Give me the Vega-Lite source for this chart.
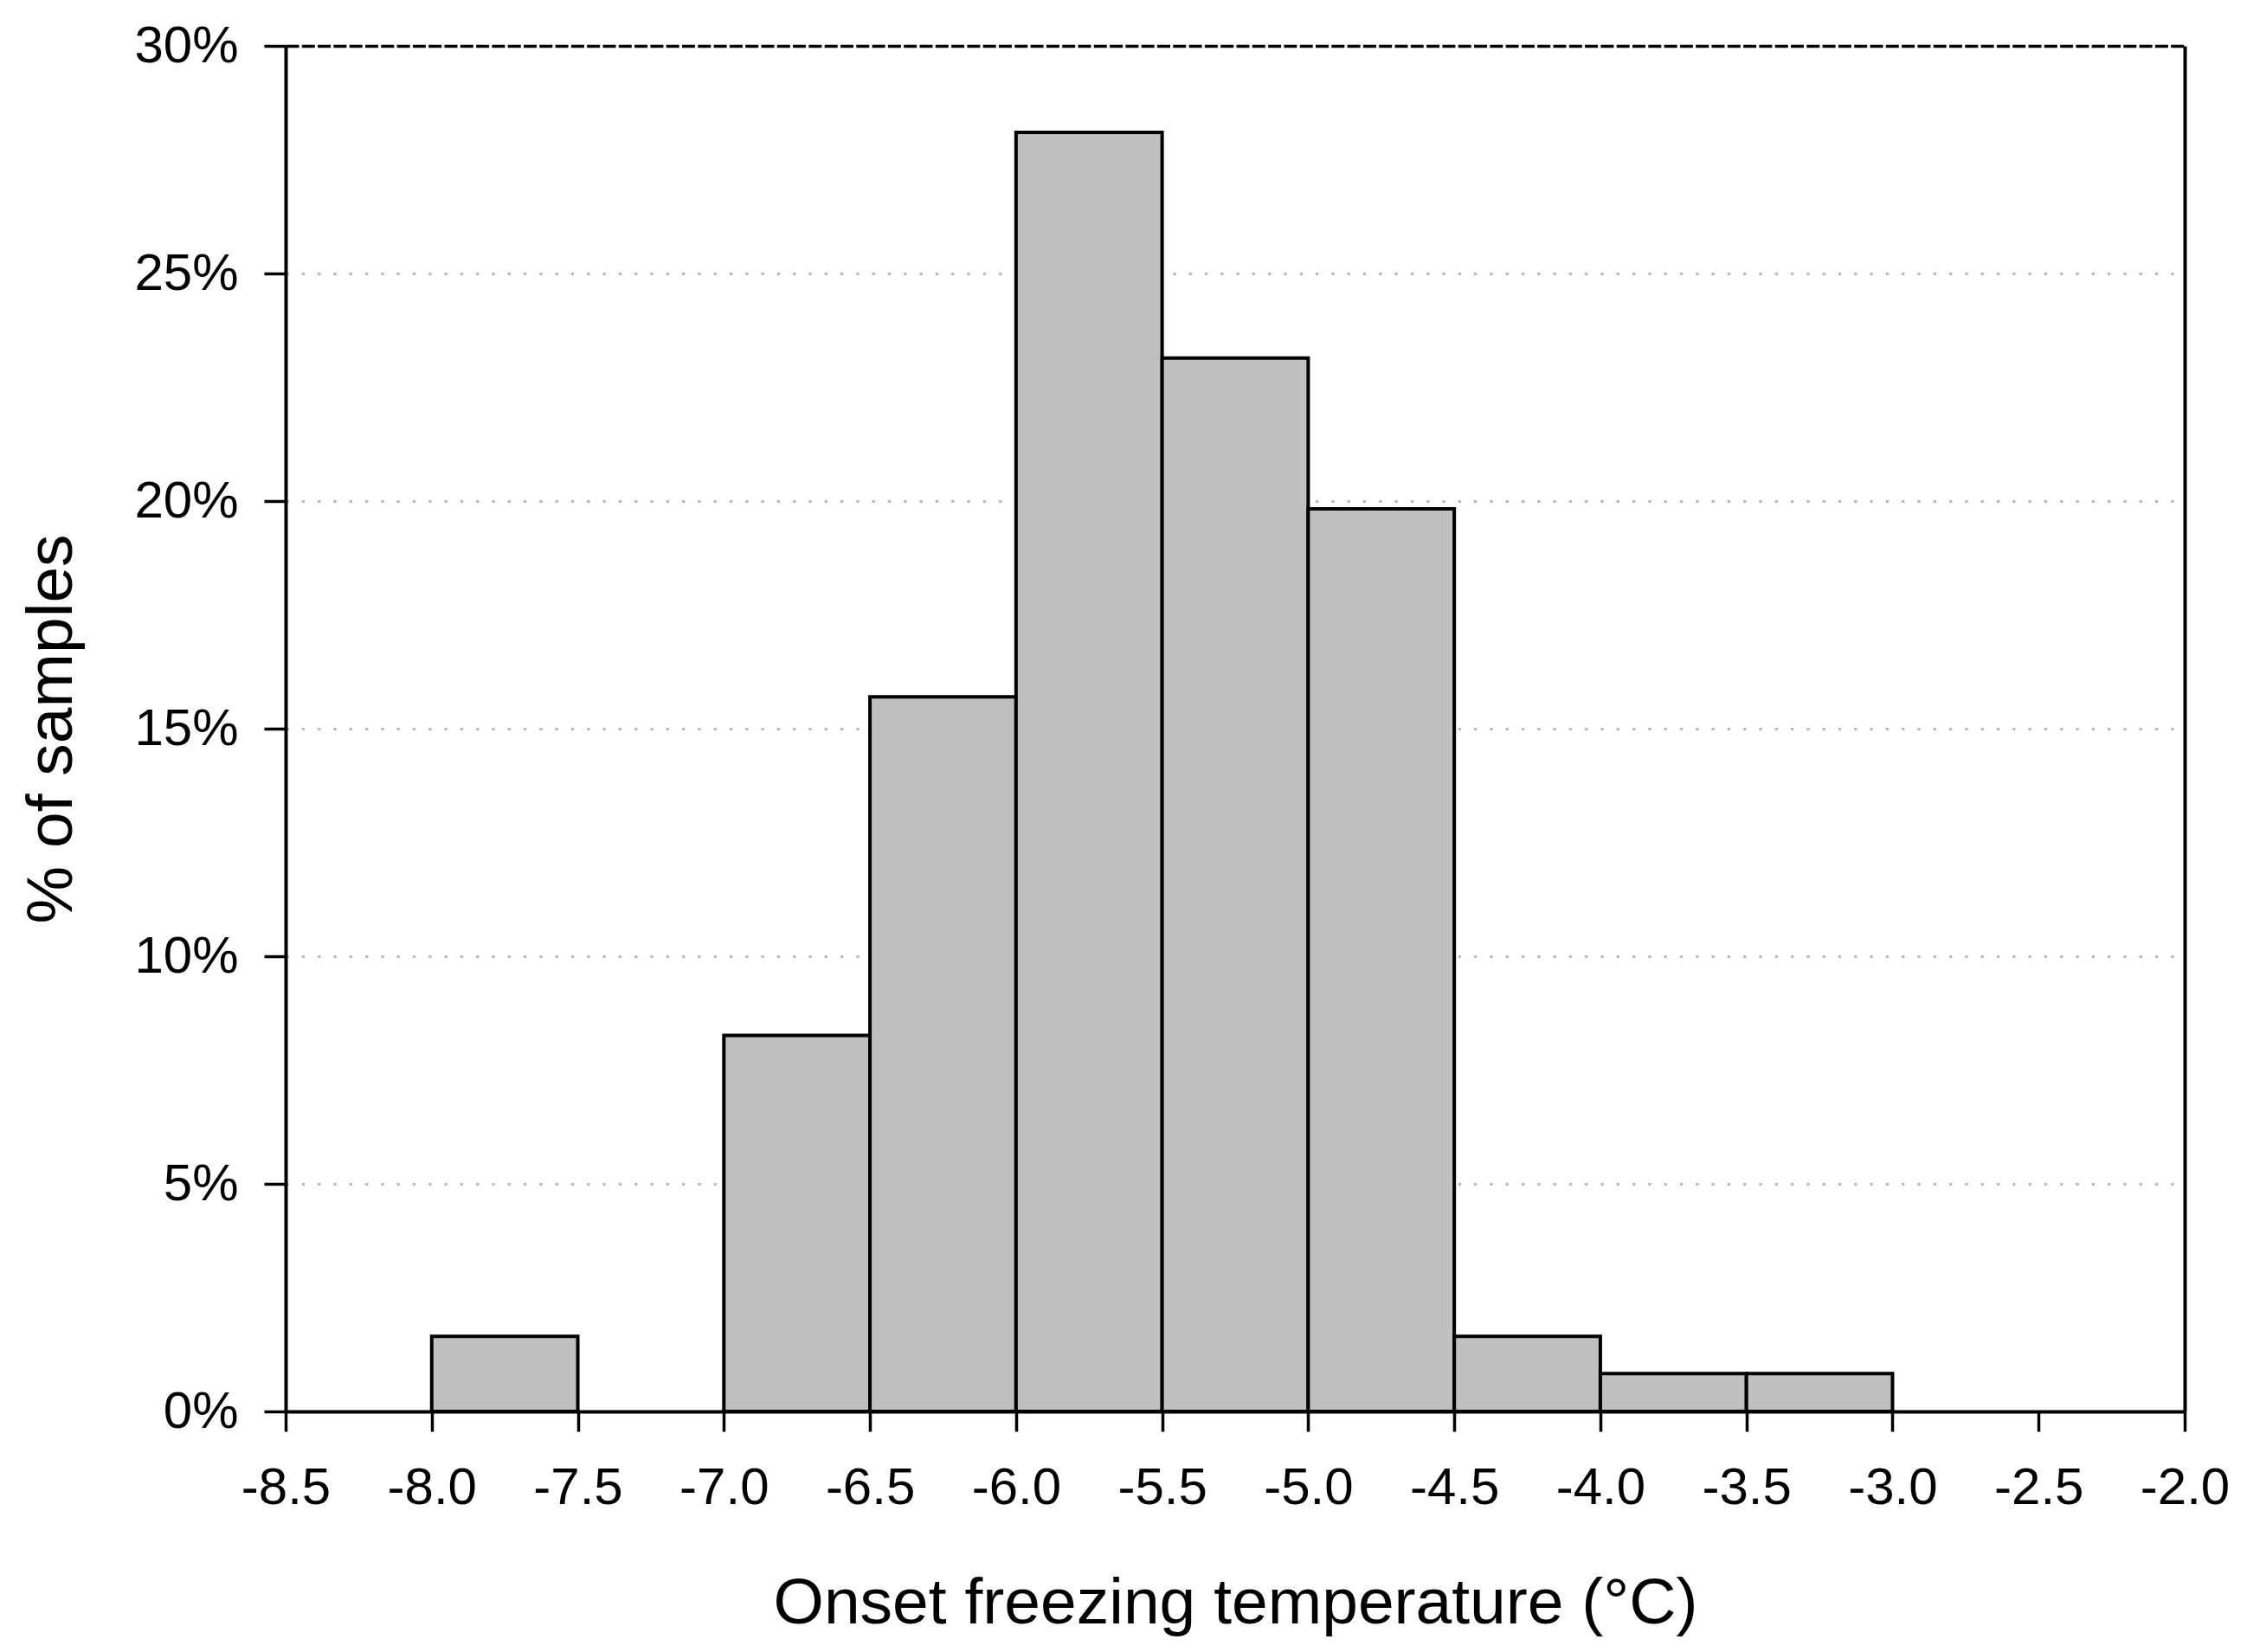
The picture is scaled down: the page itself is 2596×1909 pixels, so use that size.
{
  "$schema": "https://vega.github.io/schema/vega-lite/v6.json",
  "autosize": {"type": "none"},
  "width": 2194,
  "height": 1578,
  "padding": {"left": 330, "top": 53, "right": 72, "bottom": 278},
  "background": "white",
  "config": {
    "view": {"stroke": null},
    "font": "Liberation Sans",
    "axis": {
      "labelFont": "Liberation Sans",
      "titleFont": "Liberation Sans",
      "labelColor": "black",
      "titleColor": "black",
      "domainColor": "black",
      "tickColor": "black",
      "titleFontWeight": "normal"
    }
  },
  "data": {
    "values": [
      {"lo": -8.0, "hi": -7.5, "pct": 0.0165},
      {"lo": -7.0, "hi": -6.5, "pct": 0.0826},
      {"lo": -6.5, "hi": -6.0, "pct": 0.1570},
      {"lo": -6.0, "hi": -5.5, "pct": 0.2810},
      {"lo": -5.5, "hi": -5.0, "pct": 0.2314},
      {"lo": -5.0, "hi": -4.5, "pct": 0.1983},
      {"lo": -4.5, "hi": -4.0, "pct": 0.0165},
      {"lo": -4.0, "hi": -3.5, "pct": 0.0083},
      {"lo": -3.5, "hi": -3.0, "pct": 0.0083}
    ]
  },
  "mark": {"type": "bar", "fill": "#c0c0c0", "stroke": "black", "strokeWidth": 4, "clip": false},
  "encoding": {
    "x": {
      "field": "lo",
      "type": "quantitative",
      "scale": {"domain": [-8.5, -2.0], "nice": false, "zero": false},
      "axis": {
        "title": "Onset freezing temperature (°C)",
        "values": [-8.5, -8.0, -7.5, -7.0, -6.5, -6.0, -5.5, -5.0, -4.5, -4.0, -3.5, -3.0, -2.5, -2.0],
        "format": ".1f",
        "labelExpr": "replace(datum.label, '\u2212', '-')",
        "labelFontSize": 60,
        "labelBaseline": "alphabetic",
        "labelPadding": 83,
        "labelFlush": false,
        "labelOverlap": false,
        "tickSize": 23,
        "tickWidth": 3.5,
        "domainWidth": 4,
        "titleFontSize": 75,
        "titleBaseline": "alphabetic",
        "titleY": 244,
        "grid": true,
        "gridColor": "black",
        "gridWidth": 4,
        "gridOpacity": {"condition": {"test": "datum.value === -2", "value": 1}, "value": 0}
      }
    },
    "x2": {"field": "hi"},
    "y": {
      "field": "pct",
      "type": "quantitative",
      "scale": {"domain": [0, 0.3], "nice": false},
      "axis": {
        "title": "% of samples",
        "values": [0, 0.05, 0.1, 0.15, 0.2, 0.25, 0.3],
        "format": ".0%",
        "labelFontSize": 60,
        "labelPadding": 30,
        "labelFlush": false,
        "tickSize": 25,
        "tickWidth": 3.5,
        "domainWidth": 4,
        "titleFontSize": 75,
        "titleBaseline": "alphabetic",
        "titleX": -248,
        "grid": true,
        "gridColor": {"condition": {"test": "datum.value === 0.3", "value": "black"}, "value": "#b8b8b8"},
        "gridDash": {"condition": {"test": "datum.value === 0.3", "value": [15, 3.3]}, "value": [3.3, 15]},
        "gridWidth": {"condition": {"test": "datum.value === 0.3", "value": 3.5}, "value": 3}
      }
    },
    "y2": {"datum": 0}
  }
}
